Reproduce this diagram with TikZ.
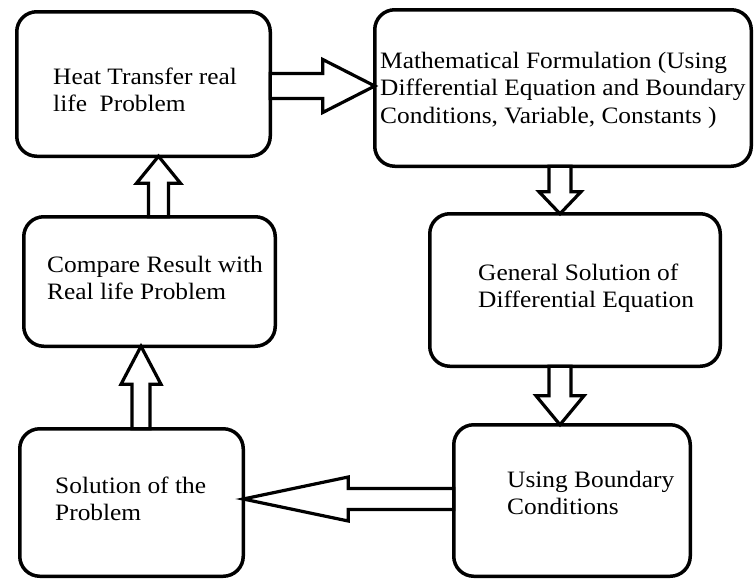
\documentclass[tikz,border=0pt]{standalone}
\usepackage{fontspec}
\setmainfont{Liberation Serif}[FakeStretch=1.08]
\usetikzlibrary{calc}

% Outlined block arrow from #2 to #3 (tip), named #1:
% #4 shaft half width, #5 head half width, #6 head length
\newcommand\blockarrow[6]{%
  \coordinate (#1-h) at ($(#3)!#6!(#2)$);
  \draw[blockarr]
    ($(#2)!#4!90:(#3)$) -- ($(#1-h)!#4!90:(#3)$) -- ($(#1-h)!#5!90:(#3)$) -- (#3)
    -- ($(#1-h)!#5!-90:(#3)$) -- ($(#1-h)!#4!-90:(#3)$) -- ($(#2)!#4!-90:(#3)$) -- cycle;
}

\begin{document}
\begin{tikzpicture}[x=1pt, y=-1pt,
  stagebox/.style={draw, line width=3.5pt, rounded corners=20pt, inner sep=0pt, outer sep=0pt},
  stagetext/.style={anchor=north west, inner sep=0pt, align=left,
    font=\fontsize{23.5}{27.5}\selectfont},
  blockarr/.style={draw, fill=white, line width=3.2pt, line join=miter}]
\useasboundingbox (0,0) rectangle (754,581);

% process stages
\node[stagebox, minimum width=253.5pt, minimum height=144.5pt] (A) at (143.5,84) {};
\node[stagebox, minimum width=376.5pt, minimum height=156.5pt] (B) at (563,88) {};
\node[stagebox, minimum width=290.5pt, minimum height=152.5pt] (E) at (575,290) {};
\node[stagebox, minimum width=236.5pt, minimum height=151.5pt] (F) at (572,500.5) {};
\node[stagebox, minimum width=223.5pt, minimum height=147.5pt] (D) at (131.5,502.5) {};
\node[stagebox, minimum width=251.5pt, minimum height=129.5pt] (C) at (149.5,281.5) {};

% stage labels
\node[stagetext] (At) at (53,64.75) {\strut Heat Transfer real\\life\ \ Problem};
\node[stagetext] (Bt) at (380,48.75) {\strut Mathematical Formulation (Using\\Differential Equation and Boundary\\Conditions, Variable, Constants )};
\node[stagetext] (Et) at (478,260.75) {\strut General Solution of\\Differential Equation};
\node[stagetext] (Ft) at (507,467.75) {\strut Using Boundary\\Conditions};
\node[stagetext] (Dt) at (55,473.75) {\strut Solution of the\\Problem};
\node[stagetext] (Ct) at (47,252.75) {\strut Compare Result with\\Real life Problem};

% flow arrows
\coordinate (ab1) at (A.east |- 0,86);
\coordinate (ab2) at (B.west |- ab1);
\blockarrow{ab}{ab1}{ab2}{12.5pt}{26.5pt}{52pt}

\coordinate (be1) at (560,0 |- B.south);
\coordinate (be2) at (be1 |- E.north);
\blockarrow{be}{be1}{be2}{11pt}{21pt}{22pt}

\coordinate (ef1) at (560,0 |- E.south);
\coordinate (ef2) at (ef1 |- F.north);
\blockarrow{ef}{ef1}{ef2}{11pt}{24pt}{29pt}

\coordinate (fd1) at (F.west |- 0,499);
\coordinate (fd2) at (D.east |- fd1);
\blockarrow{fd}{fd1}{fd2}{10.5pt}{22pt}{105pt}

\coordinate (dc1) at (141,0 |- D.north);
\coordinate (dc2) at (dc1 |- C.south);
\blockarrow{dc}{dc1}{dc2}{9pt}{20pt}{38pt}

\coordinate (ca1) at (158.5,0 |- C.north);
\coordinate (ca2) at (ca1 |- A.south);
\blockarrow{ca}{ca1}{ca2}{10pt}{22pt}{27pt}
\end{tikzpicture}
\end{document}
